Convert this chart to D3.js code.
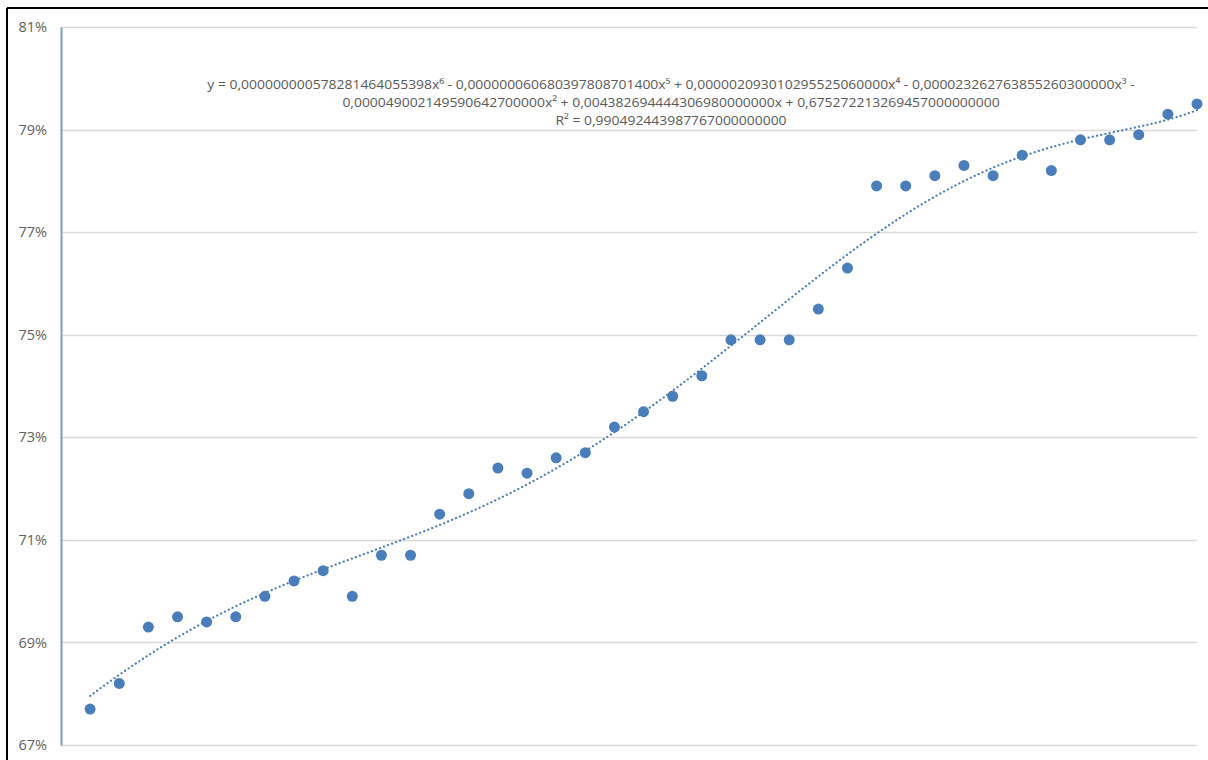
<!DOCTYPE html>
<html>
<head>
<meta charset="utf-8">
<script src="https://cdn.jsdelivr.net/npm/d3@7"></script>
<style>
  html, body { margin: 0; padding: 0; background: #fff; }
  svg { display: block; }
</style>
</head>
<body>
<svg id="chart" width="1208" height="760"></svg>
<script>
// Observed shares, one per period (x = 1 .. 39)
const periods = d3.range(1, 40);
const shares = [
  0.677, 0.682, 0.693, 0.695, 0.694, 0.695, 0.699, 0.702, 0.704, 0.699,
  0.707, 0.707, 0.715, 0.719, 0.724, 0.723, 0.726, 0.727, 0.732, 0.735,
  0.738, 0.742, 0.749, 0.749, 0.749, 0.755, 0.763, 0.779, 0.779, 0.781,
  0.783, 0.781, 0.785, 0.782, 0.788, 0.788, 0.789, 0.793, 0.795
];

// Sixth-order polynomial trendline, highest power first (x^6 ... x^0)
const trendCoefs = [
  5.78281464055398e-10, -6.06803978087014e-8, 2.09301029552506e-6,
  -2.32627638552603e-5, -4.90021495906427e-5, 4.38269444430698e-3,
  0.675272213269457
];
const trendLabel = [
  "y = 0,000000000578281464055398x\u2076 - 0,000000060680397808701400x\u2075 + 0,000002093010295525060000x\u2074 - 0,000023262763855260300000x\u00b3 -",
  "0,000049002149590642700000x\u00b2 + 0,004382694444306980000000x + 0,675272213269457000000000",
  "R\u00b2 = 0,990492443987767000000000"
];

const yTicks = [0.67, 0.69, 0.71, 0.73, 0.75, 0.77, 0.79, 0.81];

const svg = d3.select("#chart");

const x = d3.scaleLinear().domain([0, 39]).range([61, 1197]);
const y = d3.scaleLinear().domain([0.67, 0.81]).range([745, 27]);

// frame lines along the top and left edge
svg.append("line").attr("x1", 7).attr("x2", 1208).attr("y1", 8).attr("y2", 8)
  .attr("stroke", "#000").attr("stroke-width", 2);
svg.append("line").attr("x1", 7).attr("x2", 7).attr("y1", 8).attr("y2", 760)
  .attr("stroke", "#000").attr("stroke-width", 2);

// horizontal gridlines
svg.append("g")
  .selectAll("line")
  .data(yTicks)
  .join("line")
  .attr("x1", x(0)).attr("x2", x(39))
  .attr("y1", d => Math.round(y(d)) + 0.5).attr("y2", d => Math.round(y(d)) + 0.5)
  .attr("stroke", "#d9d9d9").attr("stroke-width", 1.5);

// value axis
const yAxis = d3.axisLeft(y)
  .tickValues(yTicks)
  .tickFormat(d3.format(".0%"))
  .tickSize(0)
  .tickPadding(14);
const gy = svg.append("g").attr("transform", `translate(${x(0)},0)`).call(yAxis);
gy.select(".domain").attr("stroke", "#7f9db9").attr("stroke-width", 2);
gy.selectAll("text")
  .attr("fill", "#5f5f5f")
  .style("font-family", "'Open Sans', 'Liberation Sans', sans-serif")
  .style("font-size", "14.5px");

// trendline
const poly = v => trendCoefs.reduce((acc, c) => acc * v + c, 0);
const trendX = d3.range(1, 39.001, 0.1);
svg.append("path")
  .datum(trendX)
  .attr("fill", "none")
  .attr("stroke", "#4a7ebb")
  .attr("stroke-width", 2.2)
  .attr("stroke-dasharray", "0.1 4.2")
  .attr("stroke-linecap", "round")
  .attr("d", d3.line().x(d => x(d)).y(d => y(poly(d))).curve(d3.curveLinear));

// observed points
svg.append("g")
  .selectAll("circle")
  .data(periods)
  .join("circle")
  .attr("cx", (d) => x(d))
  .attr("cy", (d, i) => y(shares[i]))
  .attr("r", 5.5)
  .attr("fill", "#4a7ebb");

// trendline equation, scaled to a common width
const eq = svg.append("g")
  .style("font-family", "'Liberation Sans Narrow', 'Open Sans', 'Liberation Sans', sans-serif")
  .style("font-size", "13.5px")
  .attr("fill", "#595959");
const lineTexts = eq.selectAll("text")
  .data(trendLabel)
  .join("text")
  .attr("text-anchor", "middle")
  .text(d => d);
const natural = lineTexts.nodes()[0].getComputedTextLength();
const sx = 928 / natural;
lineTexts.attr("transform", (d, i) => `translate(671,${89 + i * 18}) scale(${sx},1)`);
</script>
</body>
</html>
